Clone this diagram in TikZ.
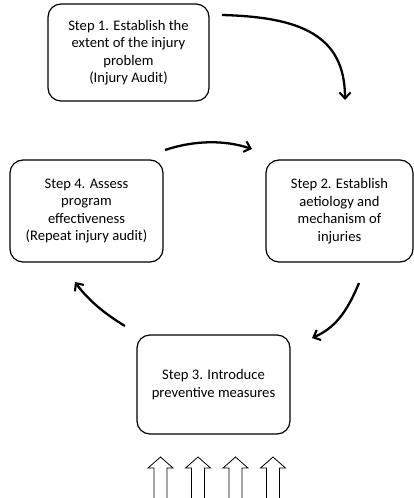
\documentclass[tikz,border=0pt]{standalone}
\usepackage{fontspec}
\setmainfont{Carlito}
\usetikzlibrary{arrows.meta}
\begin{document}
\begin{tikzpicture}[x=1pt,y=-1pt,
  stepbox/.style={draw,line width=1.2pt,rounded corners=13pt,align=center,
    font=\fontsize{14.6}{17.5}\selectfont,inner sep=0pt},
  cyc/.style={line width=2.3pt,-{Straight Barb[length=6pt,width=11pt,line width=2.1pt]}},
  hollow/.style={draw,line width=0.8pt,fill=white}]
\useasboundingbox (0,0) rectangle (414,498);
\node[stepbox,minimum width=161pt,minimum height=97pt] (s1) at (128.5,52.5)
  {Step 1. Establish the\\extent of the injury\\problem\\(Injury Audit)};
\node[stepbox,minimum width=147pt,minimum height=102pt] (s2) at (339.5,211)
  {Step 2. Establish\\aetiology and\\mechanism of\\injuries};
\node[stepbox,minimum width=153pt,minimum height=99pt] (s3) at (213.5,384.5)
  {Step 3. Introduce\\preventive measures};
\node[stepbox,minimum width=153pt,minimum height=102pt] (s4) at (86.5,211)
  {Step 4. Assess\\program\\effectiveness\\(Repeat injury audit)};
\coordinate (a1s) at (222,15);  \coordinate (a1e) at (345,100);
\coordinate (a2s) at (359,283); \coordinate (a2e) at (312,338);
\coordinate (a3s) at (125,326); \coordinate (a3e) at (75,282);
\coordinate (a4s) at (165,150); \coordinate (a4e) at (252,149);
\draw[cyc] (a1s) .. controls (300,17) and (345,35) .. (a1e);
\draw[cyc] (a2s) .. controls (347,312) and (335,328) .. (a2e);
\draw[cyc] (a3s) .. controls (105,314) and (88,300) .. (a3e);
\draw[cyc] (a4s) .. controls (195,140) and (225,140) .. (a4e);
\foreach \cx in {160.5,198,235.5,273}{
  \draw[hollow] (\cx-6.5,500) -- (\cx-6.5,468) -- (\cx-12.5,468) -- (\cx,457)
    -- (\cx+12.5,468) -- (\cx+6.5,468) -- (\cx+6.5,500);
}
\end{tikzpicture}
\end{document}
